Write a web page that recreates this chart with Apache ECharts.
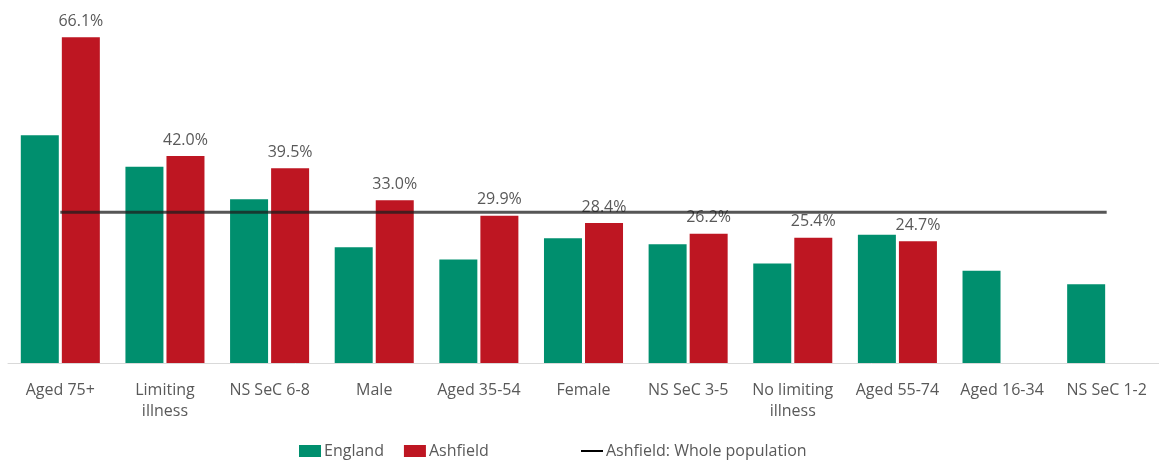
<!DOCTYPE html>
<html>
<head>
<meta charset="utf-8">
<script src="https://cdn.jsdelivr.net/npm/echarts@6/dist/echarts.min.js"></script>
<style>
  html, body { margin: 0; padding: 0; background: #fff; }
  #chart { width: 1159px; height: 462px; }
</style>
</head>
<body>
<div id="chart"></div>
<script>
const categories = ['Aged 75+', 'Limiting\nillness', 'NS SeC 6-8', 'Male', 'Aged 35-54', 'Female', 'NS SeC 3-5', 'No limiting\nillness', 'Aged 55-74', 'Aged 16-34', 'NS SeC 1-2'];
const england = [46.2, 39.8, 33.2, 23.5, 21.0, 25.3, 24.1, 20.2, 26.0, 18.7, 16.0];
const ashfield = [66.1, 42.0, 39.5, 33.0, 29.9, 28.4, 26.2, 25.4, 24.7, null, null];
const wholePopulation = [30.6, 30.6, 30.6, 30.6, 30.6, 30.6, 30.6, 30.6, 30.6, 30.6, 30.6];

const FONT = 'Open Sans';
const TEXT = '#595959';

const legendBase = {
  top: 443,
  padding: 0,
  itemWidth: 22,
  itemHeight: 12,
  itemGap: 20,
  textStyle: { color: TEXT, fontSize: 16, fontFamily: FONT, padding: [0, 0, 0, -2] }
};

const chart = echarts.init(document.getElementById('chart'));
chart.setOption({
  animation: false,
  textStyle: { fontFamily: FONT },
  grid: { left: 8, right: 0, top: 18, bottom: 99, containLabel: false },
  legend: [
    Object.assign({}, legendBase, {
      left: 299,
      data: [
        { name: 'England', icon: 'rect' },
        { name: 'Ashfield', icon: 'rect' }
      ]
    }),
    Object.assign({}, legendBase, {
      left: 581,
      data: [
        { name: 'Ashfield: Whole population', icon: 'path://M0,0L22,0L22,2L0,2Z', itemStyle: { color: '#000' } }
      ]
    })
  ],
  xAxis: {
    type: 'category',
    data: categories,
    axisLine: { show: true, lineStyle: { color: '#d9d9d9', width: 1 } },
    axisTick: { show: false },
    axisLabel: { color: TEXT, fontSize: 16, fontFamily: FONT, margin: 17, lineHeight: 21, interval: 0 }
  },
  yAxis: {
    type: 'value',
    min: 0,
    max: 70,
    show: false,
    splitLine: { show: false }
  },
  series: [
    {
      name: 'England',
      type: 'bar',
      data: england,
      barWidth: 38,
      barGap: '8%',
      itemStyle: { color: '#008F6E' }
    },
    {
      name: 'Ashfield',
      type: 'bar',
      data: ashfield,
      barWidth: 38,
      itemStyle: { color: '#BE1622' },
      label: {
        show: true,
        position: 'top',
        distance: 8,
        color: TEXT,
        fontSize: 16,
        fontFamily: FONT,
        formatter: p => p.value == null ? '' : p.value.toFixed(1) + '%'
      }
    },
    {
      name: 'Ashfield: Whole population',
      type: 'line',
      data: wholePopulation,
      symbol: 'none',
      z: 5,
      lineStyle: { color: 'rgba(30,30,30,0.75)', width: 3 },
      itemStyle: { color: '#000' }
    }
  ]
});
</script>
</body>
</html>
